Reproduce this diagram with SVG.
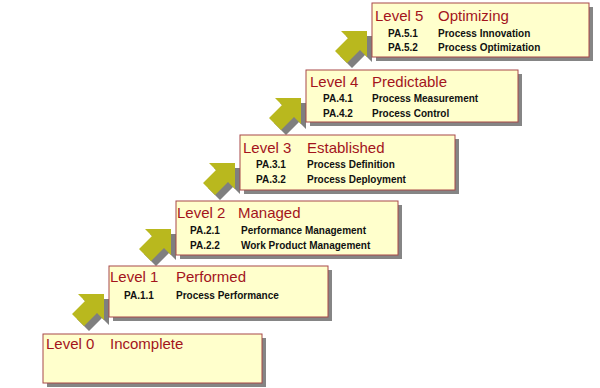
<svg xmlns="http://www.w3.org/2000/svg" xmlns:xlink="http://www.w3.org/1999/xlink" width="600" height="388" viewBox="0 0 600 388">
  <style>
    .box { fill: #ffffcc; stroke: #a84848; stroke-width: 1; }
    .shadow { fill: #858585; }
    .title { font-family: "Liberation Sans", Arial, sans-serif; font-size: 15px; fill: #a3141c; }
    .pa { font-family: "Liberation Sans", Arial, sans-serif; font-size: 10px; font-weight: bold; fill: #111; }
    .arrow { fill: #b9b81e; }
    .arrow-shadow { fill: #7f7f7f; }
  </style>
  <defs>
    <!-- block arrow pointing up-right, tip at origin -->
    <polygon id="stepArrow" points="0,0 -26,0 -19,7 -32,20 -20,32 -7,19 0,26"/>
  </defs>

  <rect width="600" height="388" fill="#ffffff"/>

  <!-- arrows leading up the staircase -->
  <g id="connectors">
    <g transform="translate(104,294)">
      <use xlink:href="#stepArrow" class="arrow-shadow" x="5" y="5"/>
      <use xlink:href="#stepArrow" class="arrow"/>
    </g>
    <g transform="translate(171,229)">
      <use xlink:href="#stepArrow" class="arrow-shadow" x="5" y="5"/>
      <use xlink:href="#stepArrow" class="arrow"/>
    </g>
    <g transform="translate(235,163)">
      <use xlink:href="#stepArrow" class="arrow-shadow" x="5" y="5"/>
      <use xlink:href="#stepArrow" class="arrow"/>
    </g>
    <g transform="translate(301,98)">
      <use xlink:href="#stepArrow" class="arrow-shadow" x="5" y="5"/>
      <use xlink:href="#stepArrow" class="arrow"/>
    </g>
    <g transform="translate(367,31)">
      <use xlink:href="#stepArrow" class="arrow-shadow" x="5" y="5"/>
      <use xlink:href="#stepArrow" class="arrow"/>
    </g>
  </g>

  <g id="level0">
    <rect class="shadow" x="47" y="338" width="219" height="49"/>
    <rect class="box" x="43" y="334" width="219" height="49"/>
    <text class="title" x="46" y="349">Level 0</text>
    <text class="title" x="110" y="349">Incomplete</text>
  </g>

  <g id="level1">
    <rect class="shadow" x="113" y="270" width="219" height="51"/>
    <rect class="box" x="109" y="266" width="219" height="51"/>
    <text class="title" x="110" y="282">Level 1</text>
    <text class="title" x="176" y="282">Performed</text>
    <text class="pa" x="124" y="299">PA.1.1</text>
    <text class="pa" x="176" y="299">Process Performance</text>
  </g>

  <g id="level2">
    <rect class="shadow" x="180" y="205" width="222" height="54"/>
    <rect class="box" x="176" y="201" width="222" height="54"/>
    <text class="title" x="177" y="218">Level 2</text>
    <text class="title" x="238" y="218">Managed</text>
    <text class="pa" x="190" y="234">PA.2.1</text>
    <text class="pa" x="241" y="234">Performance Management</text>
    <text class="pa" x="190" y="249">PA.2.2</text>
    <text class="pa" x="241" y="249">Work Product Management</text>
  </g>

  <g id="level3">
    <rect class="shadow" x="244" y="139" width="215" height="55"/>
    <rect class="box" x="240" y="135" width="215" height="55"/>
    <text class="title" x="243" y="153">Level 3</text>
    <text class="title" x="307" y="153">Established</text>
    <text class="pa" x="256" y="168">PA.3.1</text>
    <text class="pa" x="307" y="168">Process Definition</text>
    <text class="pa" x="256" y="183">PA.3.2</text>
    <text class="pa" x="307" y="183">Process Deployment</text>
  </g>

  <g id="level4">
    <rect class="shadow" x="310" y="74" width="212" height="52"/>
    <rect class="box" x="306" y="70" width="212" height="52"/>
    <text class="title" x="310" y="87">Level 4</text>
    <text class="title" x="372" y="87">Predictable</text>
    <text class="pa" x="323" y="102">PA.4.1</text>
    <text class="pa" x="372" y="102">Process Measurement</text>
    <text class="pa" x="323" y="117">PA.4.2</text>
    <text class="pa" x="372" y="117">Process Control</text>
  </g>

  <g id="level5">
    <rect class="shadow" x="376" y="7" width="217" height="54"/>
    <rect class="box" x="372" y="3" width="217" height="54"/>
    <text class="title" x="375" y="21">Level 5</text>
    <text class="title" x="438" y="21">Optimizing</text>
    <text class="pa" x="388" y="37">PA.5.1</text>
    <text class="pa" x="438" y="37">Process Innovation</text>
    <text class="pa" x="388" y="51">PA.5.2</text>
    <text class="pa" x="438" y="51">Process Optimization</text>
  </g>
</svg>
